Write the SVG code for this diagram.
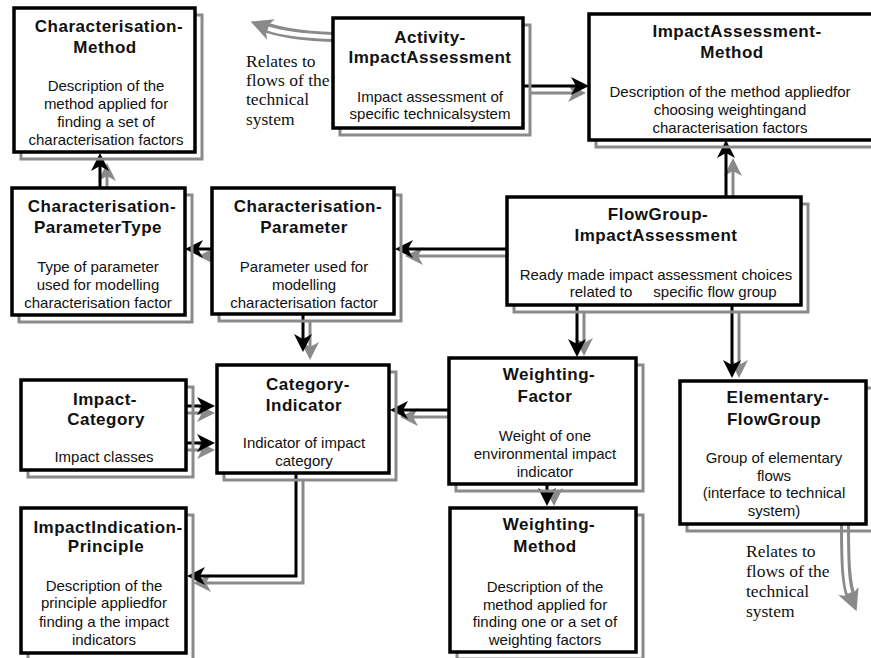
<svg xmlns="http://www.w3.org/2000/svg" width="871" height="658" viewBox="0 0 871 658">
<defs>
<marker id="ab" viewBox="0 0 18 18" refX="8" refY="9" markerWidth="18" markerHeight="18" markerUnits="userSpaceOnUse" orient="auto"><path d="M18,9 L0,0 L5,9 L0,18 Z" fill="#000"/></marker>
<marker id="ag" viewBox="0 0 18 18" refX="8" refY="9" markerWidth="18" markerHeight="18" markerUnits="userSpaceOnUse" orient="auto"><path d="M18,9 L0,0 L5,9 L0,18 Z" fill="#8a8a8a"/></marker>
<marker id="agl" viewBox="0 0 18 18" refX="8" refY="9" markerWidth="22" markerHeight="22" markerUnits="userSpaceOnUse" orient="auto"><path d="M18,9 L0,0 L5,9 L0,18 Z" fill="#8a8a8a"/></marker>
<style>
.sh{fill:none;stroke:#8a8a8a;stroke-width:3}
.bx{fill:#fff;stroke:#000;stroke-width:3.5}
.t{font-family:"Liberation Sans",Arial,sans-serif;font-weight:bold;font-size:17px;letter-spacing:0.5px;text-anchor:middle;fill:#111}
.d{font-family:"Liberation Sans",Arial,sans-serif;font-size:15px;text-anchor:middle;fill:#111}
.r{font-family:"Liberation Serif","Times New Roman",serif;font-size:17.5px;fill:#111}
.cb{fill:none;stroke:#000;stroke-width:3;marker-end:url(#ab)}
.cg{fill:none;stroke:#8a8a8a;stroke-width:3;marker-end:url(#ag)}
.cw{fill:none;stroke:#8a8a8a;stroke-width:10;marker-end:url(#agl)}
.ci{fill:none;stroke:#fff;stroke-width:4}
</style>
</defs>
<rect width="871" height="658" fill="#fff"/>
<g id="connectors">
<path class="cg" d="M107,188 V173"/>
<path class="cg" d="M212,256 H208"/>
<path class="cg" d="M507,256 H415"/>
<path class="cg" d="M310,322 V350"/>
<path class="cg" d="M530,93 H576"/>
<path class="cg" d="M733,197 V168"/>
<path class="cg" d="M584,313 V346"/>
<path class="cg" d="M739,313 V368"/>
<path class="cg" d="M449,417 H410"/>
<path class="cg" d="M186,413 H205"/>
<path class="cg" d="M186,450 H205"/>
<path class="cg" d="M303,480 V583 H203"/>
<path class="cg" d="M554,491 V496"/>
<path class="cb" d="M100,188 V163"/>
<path class="cb" d="M212,249 H195"/>
<path class="cb" d="M507,249 H405"/>
<path class="cb" d="M303,314 V342"/>
<path class="cb" d="M523,86 H579"/>
<path class="cb" d="M726,197 V150"/>
<path class="cb" d="M577,305 V347"/>
<path class="cb" d="M732,305 V368"/>
<path class="cb" d="M449,410 H400"/>
<path class="cb" d="M186,406 H205"/>
<path class="cb" d="M186,443 H205"/>
<path class="cb" d="M296,473 V576 H197"/>
<path class="cb" d="M547,484 V496"/>
<path class="cw" d="M333,37 C305,36 280,33 262,26"/>
<path class="ci" d="M335,37 C305,36 282,33.5 268,28.5"/>
<path class="cw" d="M845,524 C845,565 846,585 852,600"/>
<path class="ci" d="M845,522 C845,565 846,583 849.5,593"/>
</g>
<g id="label-relates-1">
<text class="r" x="246" y="67">Relates to</text>
<text class="r" x="246" y="86">flows of the</text>
<text class="r" x="246" y="105">technical</text>
<text class="r" x="246" y="125">system</text>
</g>
<g id="label-relates-2">
<text class="r" x="746" y="557">Relates to</text>
<text class="r" x="746" y="577">flows of the</text>
<text class="r" x="746" y="597">technical</text>
<text class="r" x="746" y="617">system</text>
</g>
<g id="CharacterisationMethod">
<rect class="sh" x="21" y="15" width="181" height="144"/>
<rect class="bx" x="14" y="8" width="181" height="144"/>
<text class="t" x="109" y="32">Characterisation-</text>
<text class="t" x="105" y="53">Method</text>
<text class="d" x="106" y="91">Description of the</text>
<text class="d" x="106" y="109">method applied for</text>
<text class="d" x="106" y="127">finding a set of</text>
<text class="d" x="106" y="145">characterisation factors</text>
</g>
<g id="ActivityImpactAssessment">
<rect class="sh" x="340" y="25" width="190" height="110"/>
<rect class="bx" x="333" y="18" width="190" height="110"/>
<text class="t" x="430" y="43">Activity-</text>
<text class="t" x="430" y="63">ImpactAssessment</text>
<text class="d" x="430" y="102">Impact assessment of</text>
<text class="d" x="430" y="119">specific technicalsystem</text>
</g>
<g id="ImpactAssessmentMethod">
<rect class="sh" x="596" y="21" width="285" height="126"/>
<rect class="bx" x="589" y="14" width="285" height="126"/>
<text class="t" x="737" y="37">ImpactAssessment-</text>
<text class="t" x="732" y="58">Method</text>
<text class="d" x="730" y="97">Description of the method appliedfor</text>
<text class="d" x="730" y="115">choosing weightingand</text>
<text class="d" x="730" y="133">characterisation factors</text>
</g>
<g id="CharacterisationParameterType">
<rect class="sh" x="19" y="195" width="173" height="127"/>
<rect class="bx" x="12" y="188" width="173" height="127"/>
<text class="t" x="102" y="212">Characterisation-</text>
<text class="t" x="98" y="233">ParameterType</text>
<text class="d" x="98" y="272">Type of parameter</text>
<text class="d" x="98" y="290">used for modelling</text>
<text class="d" x="98" y="308">characterisation factor</text>
</g>
<g id="CharacterisationParameter">
<rect class="sh" x="219" y="195" width="182" height="126"/>
<rect class="bx" x="212" y="188" width="182" height="126"/>
<text class="t" x="308" y="212">Characterisation-</text>
<text class="t" x="304" y="233">Parameter</text>
<text class="d" x="304" y="272">Parameter used for</text>
<text class="d" x="304" y="290">modelling</text>
<text class="d" x="304" y="308">characterisation factor</text>
</g>
<g id="FlowGroupImpactAssessment">
<rect class="sh" x="514" y="204" width="294" height="108"/>
<rect class="bx" x="507" y="197" width="294" height="108"/>
<text class="t" x="658" y="220">FlowGroup-</text>
<text class="t" x="656" y="241">ImpactAssessment</text>
<text class="d" x="656" y="280">Ready made impact assessment choices</text>
<text class="d" y="297"><tspan x="601">related to</tspan><tspan x="715">specific flow group</tspan></text>
</g>
<g id="ImpactCategory">
<rect class="sh" x="28" y="387" width="165" height="90"/>
<rect class="bx" x="21" y="380" width="165" height="90"/>
<text class="t" x="105" y="405">Impact-</text>
<text class="t" x="106" y="425">Category</text>
<text class="d" x="104" y="462">Impact classes</text>
</g>
<g id="CategoryIndicator">
<rect class="sh" x="224" y="372" width="172" height="108"/>
<rect class="bx" x="217" y="365" width="172" height="108"/>
<text class="t" x="308" y="390">Category-</text>
<text class="t" x="304" y="411">Indicator</text>
<text class="d" x="304" y="448">Indicator of impact</text>
<text class="d" x="304" y="466">category</text>
</g>
<g id="WeightingFactor">
<rect class="sh" x="456" y="365" width="187" height="126"/>
<rect class="bx" x="449" y="358" width="187" height="126"/>
<text class="t" x="549" y="380">Weighting-</text>
<text class="t" x="545" y="402">Factor</text>
<text class="d" x="545" y="441">Weight of one</text>
<text class="d" x="545" y="459">environmental impact</text>
<text class="d" x="545" y="477">indicator</text>
</g>
<g id="ElementaryFlowGroup">
<rect class="sh" x="687" y="388" width="186" height="143"/>
<rect class="bx" x="680" y="381" width="186" height="143"/>
<text class="t" x="778" y="403">Elementary-</text>
<text class="t" x="774" y="425">FlowGroup</text>
<text class="d" x="774" y="463">Group of elementary</text>
<text class="d" x="774" y="481">flows</text>
<text class="d" x="774" y="498">(interface to technical</text>
<text class="d" x="774" y="516">system)</text>
</g>
<g id="ImpactIndicationPrinciple">
<rect class="sh" x="28" y="515" width="165" height="145"/>
<rect class="bx" x="21" y="508" width="165" height="145"/>
<text class="t" x="108" y="533" letter-spacing="0.2">ImpactIndication-</text>
<text class="t" x="106" y="552">Principle</text>
<text class="d" x="104" y="591">Description of the</text>
<text class="d" x="104" y="608">principle appliedfor</text>
<text class="d" x="104" y="627">finding a the impact</text>
<text class="d" x="104" y="645">indicators</text>
</g>
<g id="WeightingMethod">
<rect class="sh" x="457" y="515" width="186" height="144"/>
<rect class="bx" x="450" y="508" width="186" height="144"/>
<text class="t" x="549" y="530">Weighting-</text>
<text class="t" x="545" y="552">Method</text>
<text class="d" x="545" y="592">Description of the</text>
<text class="d" x="545" y="610">method applied for</text>
<text class="d" x="545" y="627">finding one or a set of</text>
<text class="d" x="545" y="645">weighting factors</text>
</g>
</svg>
